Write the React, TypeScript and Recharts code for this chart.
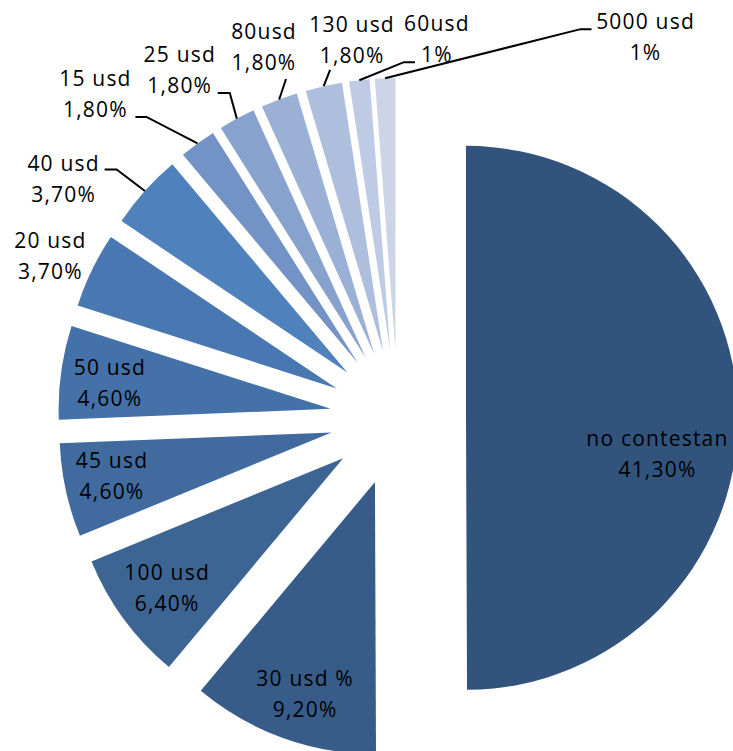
import React from 'react';
import { PieChart, Pie, Cell, Sector } from 'recharts';

// slice data, clockwise from 12 o'clock
const names = ['no contestan', '30 usd %', '100 usd', '45 usd', '50 usd', '20 usd', '40 usd', '15 usd', '25 usd', '80usd', '130 usd', '60usd', '5000 usd'];
const shares = [41.3, 9.2, 6.4, 4.6, 4.6, 3.7, 3.7, 1.8, 1.8, 1.8, 1.8, 1, 1];
const shareLabels = ['41,30%', '9,20%', '6,40%', '4,60%', '4,60%', '3,70%', '3,70%', '1,80%', '1,80%', '1,80%', '1,80%', '1%', '1%'];

const colors = [
  '#32547C', '#385C89', '#3D6594', '#416B9F', '#4471A8', '#4877B2', '#4F81BD',
  '#7393C6', '#88A2CE', '#9AB0D5', '#AEBFDE', '#BFCBE4', '#CCD5E8'
];

const data = names.map((name, i) => ({ name, value: shares[i], pct: shareLabels[i] }));

const EXPLODE = 0.25;
const RAD = Math.PI / 180;

// label placement: radius (x outerRadius from pie centre), angle shift (deg, clockwise),
// optional leader line [attachX, attachY, kneeX] relative to the label centre
const labelLayout: { r: number; da: number; line?: number[] }[] = [
  { r: 0.963, da: 8 },
  { r: 1.07, da: -1.2 },
  { r: 1.055, da: -0.2 },
  { r: 1.073, da: 0.8 },
  { r: 1.067, da: -0.8 },
  { r: 1.41, da: -0.8 },
  { r: 1.51, da: -6.4, line: [41, -10, 53] },
  { r: 1.63, da: -6.9, line: [40, 23, 51] },
  { r: 1.51, da: -3.8, line: [38, 23, 50] },
  { r: 1.45, da: 0.6, line: [22, 32, 22] },
  { r: 1.4, da: 5.7, line: [-22, 30, -22] },
  { r: 1.4, da: 12.4, line: [-22, 23, -33] },
  { r: 1.67, da: 35.2, line: [-54, -8, -65] },
];

const explodedSlice = (props: any) => {
  const { cx, cy, midAngle, innerRadius, outerRadius, startAngle, endAngle, fill } = props;
  const off = outerRadius * EXPLODE;
  return (
    <Sector
      cx={cx + off * Math.cos(-midAngle * RAD)}
      cy={cy + off * Math.sin(-midAngle * RAD)}
      innerRadius={innerRadius}
      outerRadius={outerRadius}
      startAngle={startAngle}
      endAngle={endAngle}
      fill={fill}
      stroke="none"
    />
  );
};

const renderLabel = (props: any) => {
  const { cx, cy, midAngle, outerRadius, index } = props;
  const lay = labelLayout[index];
  const a = (midAngle - lay.da) * RAD;
  const lx = cx + outerRadius * lay.r * Math.cos(a);
  const ly = cy - outerRadius * lay.r * Math.sin(a);
  let leader = null;
  if (lay.line) {
    const off = outerRadius * EXPLODE;
    const m = midAngle * RAD;
    const ex = cx + (off + outerRadius) * Math.cos(m);
    const ey = cy - (off + outerRadius) * Math.sin(m);
    const [ax, ay, kx] = lay.line;
    leader = (
      <polyline
        points={`${lx + ax},${ly + ay} ${lx + kx},${ly + ay} ${ex},${ey}`}
        fill="none"
        stroke="#000"
        strokeWidth={2}
      />
    );
  }
  return (
    <g key={`lbl-${index}`}>
      {leader}
      <text
        x={lx}
        y={ly}
        textAnchor="middle"
        fill="#000"
        fontSize={21}
        letterSpacing={1.2}
        fontFamily="'Open Sans', sans-serif"
      >
        <tspan x={lx} y={ly - 15.5} dy="0.35em">{names[index]}</tspan>
        <tspan x={lx} y={ly + 15.5} dy="0.35em">{shareLabels[index]}</tspan>
      </text>
    </g>
  );
};

export default function App() {
  return (
    <div style={{ width: 733, height: 751, background: '#fff' }}>
      <style>{'body{margin:0}'}</style>
      <PieChart width={733} height={751} margin={{ top: 0, right: 0, bottom: 0, left: 0 }}>
        <Pie
          data={data}
          dataKey="value"
          nameKey="name"
          cx={398}
          cy={418}
          outerRadius={272}
          startAngle={90}
          endAngle={-270}
          stroke="none"
          shape={explodedSlice}
          label={renderLabel}
          labelLine={false}
          isAnimationActive={false}
        >
          {data.map((d, i) => (
            <Cell key={d.name} fill={colors[i]} />
          ))}
        </Pie>
      </PieChart>
    </div>
  );
}
